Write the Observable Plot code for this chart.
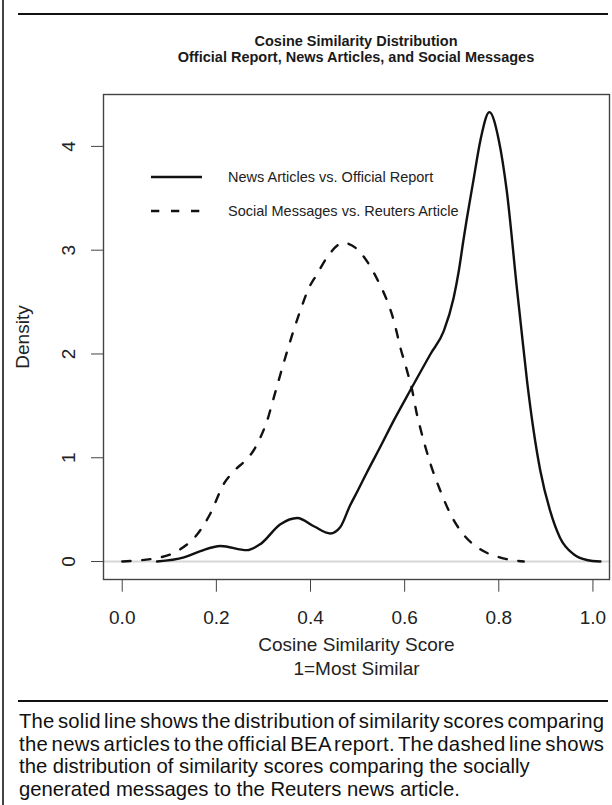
<!DOCTYPE html>
<html><head><meta charset="utf-8">
<script src="https://cdn.jsdelivr.net/npm/d3@7"></script>
<script src="https://cdn.jsdelivr.net/npm/@observablehq/plot@0.6"></script>
<style>
body{margin:0;background:#fff;}
#page{position:relative;width:612px;height:805px;overflow:hidden;font-family:"Liberation Sans",Arial,Helvetica,sans-serif;color:#1a1a1a;background:#fff;}
#vline{position:absolute;left:2px;top:0;width:2px;height:805px;background:#444;z-index:5;}
.hr{position:absolute;left:18px;width:590px;height:2px;background:#111;z-index:5;}
#title{position:absolute;left:103px;width:506px;top:33px;text-align:center;font-weight:bold;font-size:14.5px;line-height:16px;color:#1a1a1a;z-index:5;}
#chart{position:absolute;left:0;top:80px;}
.leg{position:absolute;left:151px;height:20px;display:flex;align-items:center;font-size:14.5px;color:#222;z-index:5;}
.leg svg{margin-right:26px;}
#caption{position:absolute;left:19px;top:710px;font-size:20.3px;line-height:22.7px;white-space:nowrap;color:#111;z-index:5;}
#caption span{display:inline-block;}
</style></head><body>
<div id="page">
  <div id="vline"></div>
  <div class="hr" style="top:13px"></div>
  <div id="title"></div>
  <div id="chart"></div>
  <div id="legend"></div>
  <div class="hr" style="top:700px"></div>
  <div id="caption"></div>
</div>
<script>
// ---- data ----
const titleLines = ["Cosine Similarity Distribution", "Official Report, News Articles, and Social Messages"];
const seriesNames = ["News Articles vs. Official Report", "Social Messages vs. Reuters Article"];
const xLabel = "Cosine Similarity Score\n1=Most Similar";
const yLabel = "Density";
const xTicks = [0, 0.2, 0.4, 0.6, 0.8, 1.0];
const yTicks = [0, 1, 2, 3, 4];

const newsX = [0.074,0.131,0.166,0.209,0.265,0.294,0.336,0.372,0.407,0.442,0.463,0.484,0.50,0.52,0.55,0.577,0.612,0.655,0.683,0.704,0.715,0.725,0.732,0.746,0.761,0.780,0.800,0.817,0.839,0.846,0.860,0.874,0.888,0.909,0.930,0.959,0.987,1.016];
const newsY = [0,0.04,0.10,0.15,0.11,0.17,0.36,0.42,0.34,0.27,0.33,0.54,0.68,0.86,1.12,1.36,1.65,2.00,2.22,2.54,2.80,3.10,3.30,3.67,4.06,4.33,4.06,3.57,2.61,2.32,1.74,1.26,0.88,0.49,0.23,0.07,0.015,0];

const socialX = [0.000,0.081,0.124,0.159,0.187,0.216,0.237,0.265,0.279,0.294,0.308,0.322,0.332,0.35,0.365,0.38,0.396,0.414,0.435,0.470,0.499,0.526,0.546,0.563,0.577,0.591,0.605,0.616,0.626,0.633,0.655,0.676,0.697,0.725,0.760,0.802,0.853];
const socialY = [0,0.04,0.12,0.26,0.46,0.75,0.87,0.99,1.07,1.20,1.36,1.58,1.74,2.02,2.24,2.44,2.63,2.77,2.93,3.07,3.01,2.85,2.68,2.51,2.32,2.06,1.84,1.65,1.42,1.29,0.94,0.68,0.46,0.26,0.12,0.04,0];

const captionLines = [
  "The solid line shows the distribution of similarity scores comparing",
  "the news articles to the official BEA report. The dashed line shows",
  "the distribution of similarity scores comparing the socially",
  "generated messages to the Reuters news article."
];

// ---- build ----
const news = newsX.map((x, i) => ({x, y: newsY[i]}));
const social = socialX.map((x, i) => ({x, y: socialY[i]}));
const dash = "8.3,11.7";
const font = '"Liberation Sans", Arial, Helvetica, sans-serif';

document.getElementById("title").innerHTML = titleLines.map(t => `<div>${t}</div>`).join("");

const H = 620;
const chart = Plot.plot({
  width: 612,
  height: H,
  marginLeft: 103,
  marginRight: 3,
  marginTop: 14,
  marginBottom: H - 499,
  x: {domain: [-0.0398, 1.0352]},
  y: {domain: [-0.173, 4.50]},
  style: {fontFamily: font, fontSize: "19px", color: "#222", background: "transparent"},
  marks: [
    Plot.ruleY([0], {stroke: "#d6d6d6", strokeWidth: 2}),
    Plot.frame({stroke: "#444", strokeWidth: 1.4}),
    Plot.axisX({ticks: xTicks, tickSize: 12.7, tickPadding: 18, tickFormat: d3.format(".1f"), label: null, stroke: "#444", fontSize: 19}),
    Plot.axisY({ticks: yTicks, tickSize: 12, tickFormat: () => "", label: null, stroke: "#444"}),
    Plot.text(yTicks, {y: d => d, text: d => String(d), frameAnchor: "left", textAnchor: "middle", lineAnchor: "middle", dx: -35, rotate: -90, fontSize: 19, fill: "#222"}),
    Plot.text([yLabel], {text: d => d, frameAnchor: "left", textAnchor: "middle", lineAnchor: "middle", dx: -81, rotate: -90, fontSize: 19, fill: "#222"}),
    Plot.text([xLabel], {text: d => d, frameAnchor: "bottom", lineAnchor: "top", dy: 54.5, lineHeight: 1.25, fontSize: 19, fill: "#222"}),
    Plot.line(social, {x: "x", y: "y", curve: "monotone-x", stroke: "#111", strokeWidth: 2.4, strokeDasharray: dash}),
    Plot.line(news, {x: "x", y: "y", curve: "monotone-x", stroke: "#111", strokeWidth: 2.4})
  ]
});
document.getElementById("chart").appendChild(chart);

// legend
const legend = document.getElementById("legend");
const legY = [177, 211];
seriesNames.forEach((name, i) => {
  const d = document.createElement("div");
  d.className = "leg";
  d.style.top = (legY[i] - 10) + "px";
  d.innerHTML = `<svg width="51" height="20"><line x1="0" x2="51" y1="10" y2="10" stroke="#111" stroke-width="2.4" ${i === 1 ? `stroke-dasharray="${dash}"` : ""}/></svg><span>${name}</span>`;
  legend.appendChild(d);
});

// caption: first two lines are justified with tight word gaps
const cap = document.getElementById("caption");
cap.innerHTML = captionLines.map((t, i) => `<div><span class="${i < 2 ? "fit" : ""}">${t}</span></div>`).join("");
cap.querySelectorAll(".fit").forEach(el => {
  el.style.wordSpacing = "-2.5px";
  const w = el.getBoundingClientRect().width;
  const n = el.textContent.length - 1;
  el.style.letterSpacing = ((585 - w) / n) + "px";
});
</script>
</body></html>
